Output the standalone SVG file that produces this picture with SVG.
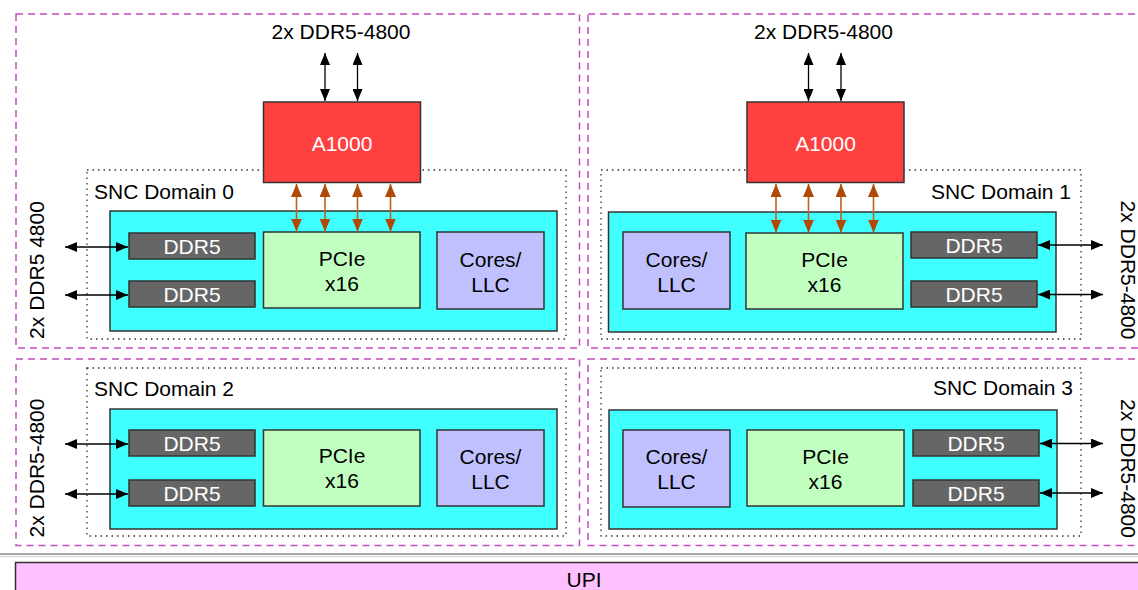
<svg xmlns="http://www.w3.org/2000/svg" width="1138" height="590" viewBox="0 0 1138 590">
  <style>
    text { font-family: "Liberation Sans", Arial, Helvetica, sans-serif; font-size: 21px; fill: #000; }
    .mid { text-anchor: middle; }
    .end { text-anchor: end; }
    .wt { fill: #fff; }
    .quad { fill: none; stroke: #c44cc4; stroke-width: 1.5; stroke-dasharray: 7 5; }
    .dom { fill: none; stroke: #333; stroke-width: 1.3; stroke-dasharray: 1.5 4; }
    .die { fill: #40ffff; stroke: #333; stroke-width: 1.5; }
    .ddr { fill: #666; stroke: #333; stroke-width: 1.5; }
    .pcie { fill: #c0ffc0; stroke: #333; stroke-width: 1.5; }
    .core { fill: #c0c0ff; stroke: #333; stroke-width: 1.5; }
    .acc { fill: #ff4040; stroke: #333; stroke-width: 1.5; }
    .blk { stroke: #000; stroke-width: 1.3; fill: none; marker-start: url(#ab); marker-end: url(#ab); }
    .org { stroke: #c0611c; stroke-width: 1.6; fill: none; marker-start: url(#ao); marker-end: url(#ao); }
  </style>
  <defs>
    <marker id="ab" viewBox="0 0 12 10" refX="12" refY="5" markerWidth="12" markerHeight="10" markerUnits="userSpaceOnUse" orient="auto-start-reverse">
      <path d="M0,0 L12,5 L0,10 z" fill="#000"/>
    </marker>
    <marker id="ao" viewBox="0 0 13 11" refX="13" refY="5.5" markerWidth="13" markerHeight="11" markerUnits="userSpaceOnUse" orient="auto-start-reverse">
      <path d="M0,0 L13,5.5 L0,11 z" fill="#b04808"/>
    </marker>
  </defs>

  <rect width="1138" height="590" fill="#fff"/>

  <!-- quadrant outlines -->
  <g id="quadrants">
    <rect class="quad" x="16" y="14" width="563.5" height="334"/>
    <rect class="quad" x="588" y="14" width="570" height="334"/>
    <rect class="quad" x="16" y="359" width="563.5" height="186.5"/>
    <rect class="quad" x="588" y="359" width="570" height="186.5"/>
  </g>

  <!-- separator and UPI bar -->
  <line x1="0" y1="554" x2="1138" y2="554" stroke="#aaa" stroke-width="2"/>
  <line x1="0" y1="556.5" x2="1138" y2="556.5" stroke="#ddd" stroke-width="1.5"/>
  <g id="upi">
    <rect x="15.5" y="562.5" width="1140" height="40" fill="#ffc0ff" stroke="#333" stroke-width="1.5"/>
    <text class="mid" x="584" y="587" font-size="22">UPI</text>
  </g>

  <!-- SNC domain 0 -->
  <g id="snc0">
    <rect class="dom" x="87" y="170" width="479" height="169"/>
    <text x="94" y="199">SNC Domain 0</text>
    <rect class="die" x="110" y="211" width="447" height="120"/>
    <rect class="ddr" x="129" y="233" width="126" height="26"/>
    <text class="mid wt" x="192" y="254">DDR5</text>
    <rect class="ddr" x="129" y="281" width="126" height="26"/>
    <text class="mid wt" x="192" y="302">DDR5</text>
    <rect class="pcie" x="263.5" y="232" width="156.5" height="76"/>
    <text class="mid" x="342" y="266">PCIe</text>
    <text class="mid" x="342" y="291">x16</text>
    <rect class="core" x="437" y="232" width="107" height="77"/>
    <text class="mid" x="490.5" y="267">Cores/</text>
    <text class="mid" x="490.5" y="292">LLC</text>
  </g>

  <!-- SNC domain 1 -->
  <g id="snc1">
    <rect class="dom" x="601" y="170" width="480" height="169"/>
    <text class="end" x="1071" y="199">SNC Domain 1</text>
    <rect class="die" x="608.5" y="212" width="447.5" height="120"/>
    <rect class="core" x="623" y="232" width="107" height="77"/>
    <text class="mid" x="676.5" y="267">Cores/</text>
    <text class="mid" x="676.5" y="292">LLC</text>
    <rect class="pcie" x="746" y="233" width="157" height="76"/>
    <text class="mid" x="824.5" y="267">PCIe</text>
    <text class="mid" x="824.5" y="292">x16</text>
    <rect class="ddr" x="911" y="232" width="126" height="26"/>
    <text class="mid wt" x="974" y="253">DDR5</text>
    <rect class="ddr" x="911" y="281" width="126" height="26"/>
    <text class="mid wt" x="974" y="302">DDR5</text>
  </g>

  <!-- SNC domain 2 -->
  <g id="snc2">
    <rect class="dom" x="87" y="368" width="479" height="168"/>
    <text x="94" y="396">SNC Domain 2</text>
    <rect class="die" x="110" y="409" width="447" height="120"/>
    <rect class="ddr" x="129" y="430" width="126" height="26"/>
    <text class="mid wt" x="192" y="451">DDR5</text>
    <rect class="ddr" x="129" y="480" width="126" height="26"/>
    <text class="mid wt" x="192" y="501">DDR5</text>
    <rect class="pcie" x="263.5" y="430" width="156.5" height="76"/>
    <text class="mid" x="342" y="463">PCIe</text>
    <text class="mid" x="342" y="488">x16</text>
    <rect class="core" x="437" y="430" width="107" height="76"/>
    <text class="mid" x="490.5" y="464">Cores/</text>
    <text class="mid" x="490.5" y="489">LLC</text>
  </g>

  <!-- SNC domain 3 -->
  <g id="snc3">
    <rect class="dom" x="601" y="368" width="480" height="168"/>
    <text class="end" x="1073" y="395">SNC Domain 3</text>
    <rect class="die" x="609" y="410" width="448" height="119"/>
    <rect class="core" x="623" y="430" width="107" height="77"/>
    <text class="mid" x="676.5" y="464">Cores/</text>
    <text class="mid" x="676.5" y="489">LLC</text>
    <rect class="pcie" x="747" y="430" width="157" height="76"/>
    <text class="mid" x="825.5" y="464">PCIe</text>
    <text class="mid" x="825.5" y="489">x16</text>
    <rect class="ddr" x="913" y="430" width="126" height="26"/>
    <text class="mid wt" x="976" y="451">DDR5</text>
    <rect class="ddr" x="913" y="480" width="126" height="26"/>
    <text class="mid wt" x="976" y="501">DDR5</text>
  </g>

  <!-- A1000 accelerators -->
  <g id="a1000-0">
    <rect class="acc" x="263.5" y="102" width="157" height="80.5"/>
    <text class="mid wt" x="342" y="151">A1000</text>
  </g>
  <g id="a1000-1">
    <rect class="acc" x="747" y="102" width="157" height="80.5"/>
    <text class="mid wt" x="825.5" y="151">A1000</text>
  </g>

  <!-- memory channel labels -->
  <g id="labels">
    <text class="mid" x="341" y="39">2x DDR5-4800</text>
    <text class="mid" x="823.5" y="39">2x DDR5-4800</text>
    <text class="mid" transform="translate(43.5,270) rotate(-90)">2x DDR5 4800</text>
    <text class="mid" transform="translate(43.5,468) rotate(-90)">2x DDR5-4800</text>
    <text class="mid" transform="translate(1120.5,270) rotate(90)">2x DDR5-4800</text>
    <text class="mid" transform="translate(1120.5,468.5) rotate(90)">2x DDR5-4800</text>
  </g>

  <!-- connectors -->
  <g id="connectors">
    <line class="blk" x1="325" y1="53" x2="325" y2="101"/>
    <line class="blk" x1="357.5" y1="53" x2="357.5" y2="101"/>
    <line class="blk" x1="808.5" y1="53" x2="808.5" y2="101"/>
    <line class="blk" x1="841" y1="53" x2="841" y2="101"/>

    <line class="org" x1="296.5" y1="184" x2="296.5" y2="231.5"/>
    <line class="org" x1="325" y1="184" x2="325" y2="231.5"/>
    <line class="org" x1="357.5" y1="184" x2="357.5" y2="231.5"/>
    <line class="org" x1="390.5" y1="184" x2="390.5" y2="231.5"/>
    <line class="org" x1="776" y1="184" x2="776" y2="232.5"/>
    <line class="org" x1="808.5" y1="184" x2="808.5" y2="232.5"/>
    <line class="org" x1="841" y1="184" x2="841" y2="232.5"/>
    <line class="org" x1="873.5" y1="184" x2="873.5" y2="232.5"/>

    <line class="blk" x1="65" y1="247" x2="128" y2="247"/>
    <line class="blk" x1="65" y1="295" x2="128" y2="295"/>
    <line class="blk" x1="65" y1="444" x2="128" y2="444"/>
    <line class="blk" x1="65" y1="494" x2="128" y2="494"/>

    <line class="blk" x1="1038" y1="245" x2="1103" y2="245"/>
    <line class="blk" x1="1038" y1="294.5" x2="1103" y2="294.5"/>
    <line class="blk" x1="1040" y1="443.5" x2="1103" y2="443.5"/>
    <line class="blk" x1="1040" y1="493" x2="1103" y2="493"/>
  </g>
</svg>
